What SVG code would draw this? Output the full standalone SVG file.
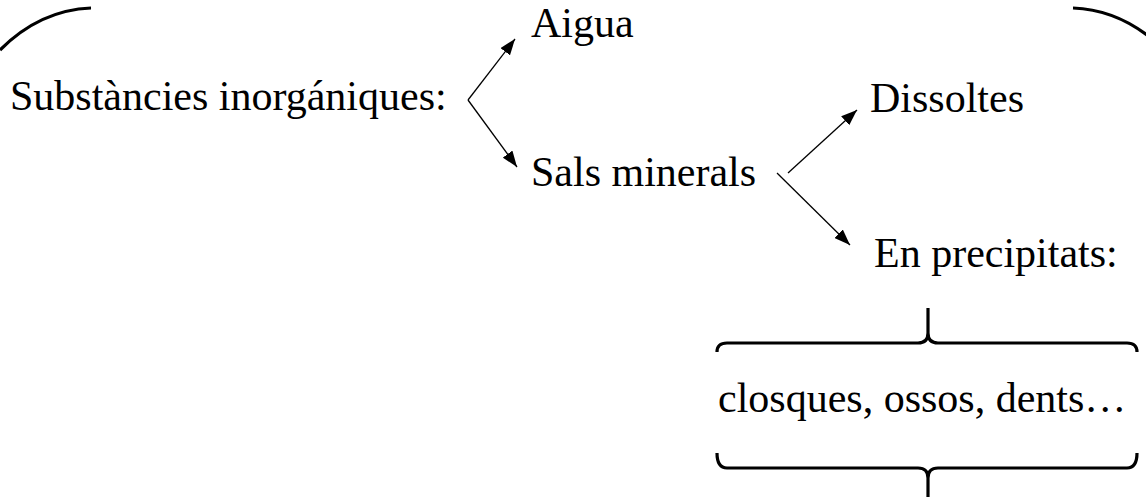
<svg xmlns="http://www.w3.org/2000/svg" width="1146" height="497" viewBox="0 0 1146 497">
  <style>
    .t { font-family: "Liberation Serif", "Times New Roman", serif; font-size: 42px; fill: #000; }
    .link { stroke: #000; stroke-width: 1.3; fill: none; marker-end: url(#tip); }
    .curve { stroke: #000; stroke-width: 3.2; fill: none; stroke-linecap: butt; }
  </style>
  <defs>
    <marker id="tip" markerUnits="userSpaceOnUse" markerWidth="17" markerHeight="12" refX="16" refY="6" orient="auto">
      <path d="M0,0 L16,6 L0,12 Z" fill="#000"/>
    </marker>
  </defs>

  <!-- outer arcs -->
  <g id="arcs">
    <path class="curve" d="M0,50 Q40,10 91,8"/>
    <path class="curve" d="M1073,8 Q1124,10 1164,50"/>
  </g>

  <g id="n-inorganic"><text class="t" x="10" y="110">Substàncies inorgániques:</text></g>
  <g id="n-water"><text class="t" x="531" y="37">Aigua</text></g>
  <g id="n-salts"><text class="t" x="531" y="186">Sals minerals</text></g>
  <g id="n-dissolved"><text class="t" x="870" y="112">Dissoltes</text></g>
  <g id="n-precipitated"><text class="t" x="874" y="267">En precipitats:</text></g>
  <g id="n-examples">
    <path class="curve" d="M717,352 Q717,343 727,343 L918,343 Q928,343 928,333 L928,308 M928,333 Q928,343 938,343 L1127,343 Q1137,343 1137,352"/>
    <text class="t" x="718" y="412">closques, ossos, dents…</text>
    <path class="curve" d="M717,453 Q717,468 727,468 L918,468 Q928,468 928,478 L928,497 M928,478 Q928,468 938,468 L1127,468 Q1137,468 1137,453"/>
  </g>

  <g id="connectors">
    <line class="link" x1="468" y1="100" x2="515" y2="39"/>
    <line class="link" x1="468" y1="100" x2="517" y2="167"/>
    <line class="link" x1="788" y1="173" x2="857" y2="110"/>
    <line class="link" x1="777" y1="173" x2="850" y2="245"/>
  </g>
</svg>
